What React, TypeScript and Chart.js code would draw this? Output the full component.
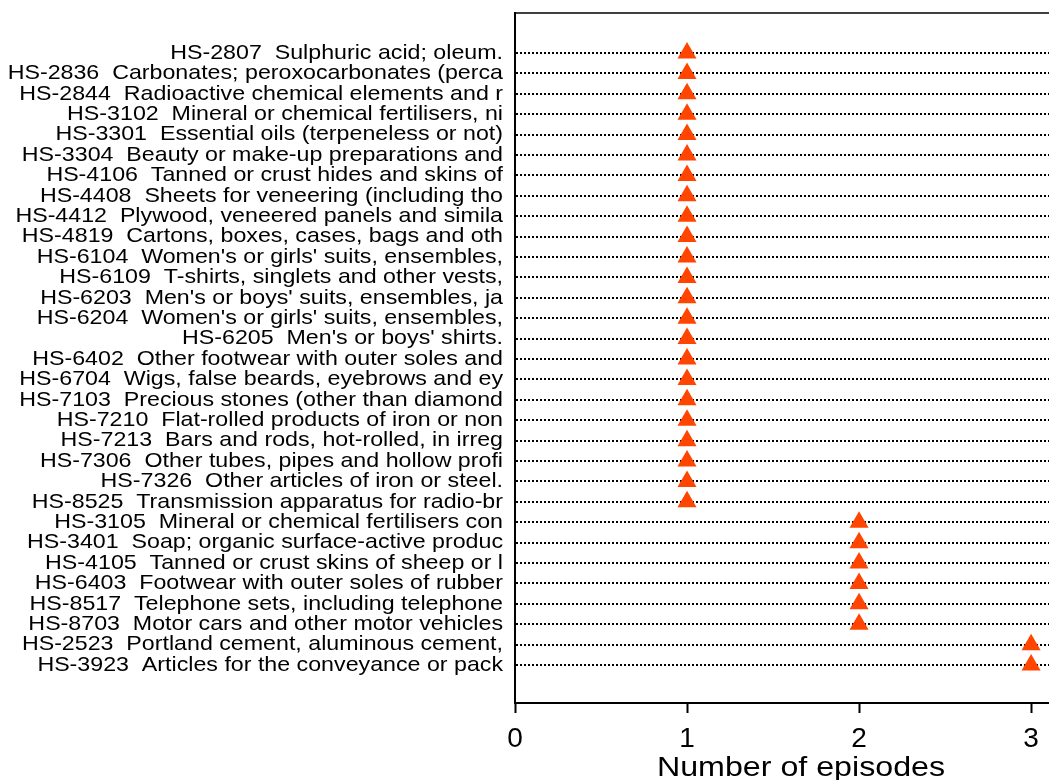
import React, { useEffect, useRef } from "react";
import { Chart, registerables, LinearScale } from "chart.js";
Chart.register(...registerables);

const categories: string[] = [
  "HS-2807  Sulphuric acid; oleum.",
  "HS-2836  Carbonates; peroxocarbonates (perca",
  "HS-2844  Radioactive chemical elements and r",
  "HS-3102  Mineral or chemical fertilisers, ni",
  "HS-3301  Essential oils (terpeneless or not)",
  "HS-3304  Beauty or make-up preparations and",
  "HS-4106  Tanned or crust hides and skins of",
  "HS-4408  Sheets for veneering (including tho",
  "HS-4412  Plywood, veneered panels and simila",
  "HS-4819  Cartons, boxes, cases, bags and oth",
  "HS-6104  Women's or girls' suits, ensembles,",
  "HS-6109  T-shirts, singlets and other vests,",
  "HS-6203  Men's or boys' suits, ensembles, ja",
  "HS-6204  Women's or girls' suits, ensembles,",
  "HS-6205  Men's or boys' shirts.",
  "HS-6402  Other footwear with outer soles and",
  "HS-6704  Wigs, false beards, eyebrows and ey",
  "HS-7103  Precious stones (other than diamond",
  "HS-7210  Flat-rolled products of iron or non",
  "HS-7213  Bars and rods, hot-rolled, in irreg",
  "HS-7306  Other tubes, pipes and hollow profi",
  "HS-7326  Other articles of iron or steel.",
  "HS-8525  Transmission apparatus for radio-br",
  "HS-3105  Mineral or chemical fertilisers con",
  "HS-3401  Soap; organic surface-active produc",
  "HS-4105  Tanned or crust skins of sheep or l",
  "HS-6403  Footwear with outer soles of rubber",
  "HS-8517  Telephone sets, including telephone",
  "HS-8703  Motor cars and other motor vehicles",
  "HS-2523  Portland cement, aluminous cement,",
  "HS-3923  Articles for the conveyance or pack",
];

const episodes: number[] = [
  1, 1, 1, 1, 1, 1, 1, 1, 1, 1, 1, 1, 1, 1, 1, 1, 1, 1, 1, 1, 1, 1, 1,
  2, 2, 2, 2, 2, 2,
  3, 3,
];

const xTicks: number[] = [0, 1, 2, 3];
const xTitle = "Number of episodes";
const FONT = "Liberation Sans, Arial, sans-serif";
const Y_LABEL_STRETCH = 1.105;
const X_TITLE_STRETCH = 1.15;

class StretchLinear extends (LinearScale as any) {
  static id = "stretchLinear";
  drawLabels(chartArea: any) {
    const self: any = this;
    if (self.axis !== "y") return super.drawLabels(chartArea);
    const ctx = self.ctx;
    const ax = self.right - self.options.ticks.padding;
    ctx.save();
    ctx.translate(ax, 0);
    ctx.scale(Y_LABEL_STRETCH, 1);
    ctx.translate(-ax, 0);
    super.drawLabels(chartArea);
    ctx.restore();
  }
  drawTitle() {
    const self: any = this;
    if (self.axis !== "x") return super.drawTitle();
    const ctx = self.ctx;
    const cx = (self.left + self.right) / 2;
    ctx.save();
    ctx.translate(cx, 0);
    ctx.scale(X_TITLE_STRETCH, 1);
    ctx.translate(-cx, 0);
    super.drawTitle();
    ctx.restore();
  }
}
Chart.register(StretchLinear as any);

const topSpine = {
  id: "topSpine",
  afterDraw(chart: any) {
    const { ctx, chartArea } = chart;
    ctx.save();
    ctx.strokeStyle = "#000";
    ctx.lineWidth = 1.5;
    ctx.beginPath();
    ctx.moveTo(chartArea.left - 1, chartArea.top);
    ctx.lineTo(chartArea.right, chartArea.top);
    ctx.stroke();
    ctx.restore();
  },
};

export default function App() {
  const ref = useRef<HTMLCanvasElement>(null);
  useEffect(() => {
    document.body.style.margin = "0";
    const ctx = ref.current!;
    const n = categories.length;
    const chart = new Chart(ctx, {
      type: "scatter",
      data: {
        datasets: [
          {
            data: episodes.map((v, i) => ({ x: v, y: i })),
            pointStyle: "triangle",
            pointRadius: 11,
            pointHoverRadius: 11,
            backgroundColor: "#FF4500",
            borderColor: "#FF4500",
            borderWidth: 0,
          },
        ],
      },
      plugins: [topSpine],
      options: {
        animation: false,
        responsive: false,
        maintainAspectRatio: false,
        layout: {
          autoPadding: false,
          padding: { top: 13, right: 0, left: 0, bottom: 0 },
        },
        plugins: { legend: { display: false }, tooltip: { enabled: false } },
        scales: {
          x: {
            type: "stretchLinear" as any,
            min: 0,
            max: 3.325,
            afterBuildTicks: (scale: any) => {
              scale.ticks = xTicks.map((v) => ({ value: v }));
            },
            afterFit: (scale: any) => {
              scale.height = 77;
              scale.paddingLeft = 0;
              scale.paddingRight = 0;
            },
            ticks: {
              color: "#000",
              font: { family: FONT, size: 28 },
              padding: 9,
              maxRotation: 0,
            },
            grid: {
              drawOnChartArea: false,
              drawTicks: true,
              tickLength: 10,
              tickColor: "#000",
              tickWidth: 2,
            },
            border: { display: true, color: "#000", width: 2 },
            title: {
              display: true,
              text: xTitle,
              color: "#000",
              font: { family: FONT, size: 28 },
              padding: { top: 0, bottom: -5 },
            },
          },
          y: {
            type: "stretchLinear" as any,
            reverse: true,
            min: -1.96,
            max: 31.86,
            afterBuildTicks: (scale: any) => {
              scale.ticks = categories.map((_, i) => ({ value: i }));
            },
            afterFit: (scale: any) => {
              scale.width = 515;
              scale.paddingTop = 0;
              scale.paddingBottom = 0;
            },
            ticks: {
              autoSkip: false,
              color: "#000",
              font: { family: FONT, size: 21 },
              padding: 12,
              callback: (v: any) => {
                const i = Number(v);
                return Number.isInteger(i) && i >= 0 && i < n ? categories[i] : "";
              },
            },
            grid: {
              drawTicks: false,
              color: "#000",
              lineWidth: 2,
            },
            border: { display: true, color: "#000", width: 2, dash: [2, 2] },
          },
        },
      },
    });
    return () => chart.destroy();
  }, []);
  return (
    <div
      style={{
        position: "absolute",
        left: 0,
        top: 0,
        width: 1049,
        height: 780,
        overflow: "hidden",
      }}
    >
      <canvas ref={ref} width={1087} height={780} style={{ width: 1087, height: 780 }} />
    </div>
  );
}
